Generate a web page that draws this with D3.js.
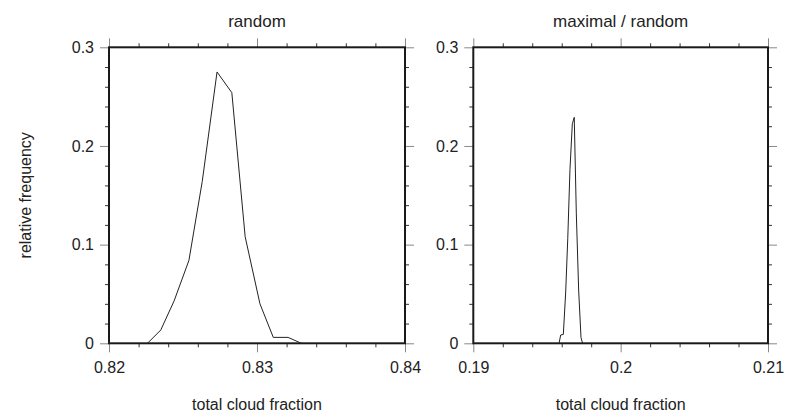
<!DOCTYPE html>
<html><head><meta charset="utf-8">
<script src="https://cdn.jsdelivr.net/npm/d3@7"></script>
<style>body{margin:0;background:#fff}svg{display:block}text{font-family:"Liberation Sans",Arial,sans-serif;fill:#222}</style>
</head><body><svg id="c" width="793" height="414"></svg>
<script>
const titles = ["random", "maximal / random"];
const xDomains = [[0.82, 0.84], [0.19, 0.21]];
const xTickVals = [[0.82, 0.83, 0.84], [0.19, 0.2, 0.21]];
const xTickLabels = [["0.82", "0.83", "0.84"], ["0.19", "0.2", "0.21"]];
const yTickVals = [0, 0.1, 0.2, 0.3];
const yTickLabels = ["0", "0.1", "0.2", "0.3"];
const randomX = [0.8226, 0.8235, 0.8244, 0.8254, 0.8263, 0.8273, 0.8283, 0.8292, 0.8302, 0.8311, 0.8321, 0.8330];
const randomY = [0, 0.0135, 0.043, 0.084, 0.164, 0.275, 0.254, 0.108, 0.040, 0.006, 0.006, 0];
const maxRandX = [0.19582, 0.19593, 0.19611, 0.19627, 0.19641, 0.19656, 0.19672, 0.19685, 0.19699, 0.19715, 0.19731, 0.19742];
const maxRandY = [0, 0.0084, 0.009, 0.052, 0.106, 0.176, 0.2225, 0.229, 0.132, 0.054, 0.0057, 0];
const seriesX = [randomX, maxRandX];
const seriesY = [randomY, maxRandY];

const svg = d3.select("#c");
const panels = [{x0:109, x1:405}, {x0:473.3, x1:768}];
const y0 = 343.3, y1 = 47.3;

panels.forEach((p, i) => {
  const x = d3.scaleLinear().domain(xDomains[i]).range([p.x0, p.x1]);
  const y = d3.scaleLinear().domain([0, 0.3]).range([y0, y1]);
  const g = svg.append("g");
  const dx = xDomains[i];
  const minorX = d3.range(0, 11).map(k => dx[0] + k * (dx[1] - dx[0]) / 10).filter((v, k) => k % 5 !== 0);
  const minorY = d3.range(0, 16).map(k => k * 0.02).filter((v, k) => k % 5 !== 0);

  const minor = (axis, tr) => g.append("g").attr("transform", tr)
    .call(axis.tickSize(4).tickFormat(""))
    .call(a => a.select(".domain").remove()).call(a => a.selectAll("line").attr("stroke", "#333"));
  minor(d3.axisBottom(x).tickValues(minorX), `translate(0,${y0})`);
  minor(d3.axisTop(x).tickValues(minorX), `translate(0,${y1})`);
  minor(d3.axisLeft(y).tickValues(minorY), `translate(${p.x0},0)`);
  minor(d3.axisRight(y).tickValues(minorY), `translate(${p.x1},0)`);

  const bx = g.append("g").attr("transform", `translate(0,${y0})`)
    .call(d3.axisBottom(x).tickValues(xTickVals[i]).tickSize(9).tickPadding(9)
      .tickFormat((d, k) => xTickLabels[i][k]));
  bx.select(".domain").remove();
  bx.selectAll("line").attr("stroke", "#888");
  bx.selectAll("text").style("font-size", "16px").attr("fill", "#222");
  g.append("g").attr("transform", `translate(0,${y1})`)
    .call(d3.axisTop(x).tickValues(xTickVals[i]).tickSize(9).tickFormat(""))
    .call(a => a.select(".domain").remove()).call(a => a.selectAll("line").attr("stroke", "#888"));
  const ly = g.append("g").attr("transform", `translate(${p.x0},0)`)
    .call(d3.axisLeft(y).tickValues(yTickVals).tickSize(9).tickPadding(6)
      .tickFormat((d, k) => yTickLabels[k]));
  ly.select(".domain").remove();
  ly.selectAll("line").attr("stroke", "#888");
  ly.selectAll("text").style("font-size", "16px").attr("fill", "#222");
  g.append("g").attr("transform", `translate(${p.x1},0)`)
    .call(d3.axisRight(y).tickValues(yTickVals).tickSize(9).tickFormat(""))
    .call(a => a.select(".domain").remove()).call(a => a.selectAll("line").attr("stroke", "#888"));

  g.append("rect").attr("x", p.x0).attr("y", y1).attr("width", p.x1 - p.x0).attr("height", y0 - y1)
    .attr("fill", "none").attr("stroke", "#1a1a1a").attr("stroke-width", 2);

  const pts = seriesX[i].map((v, k) => [v, seriesY[i][k]]);
  g.append("path").datum(pts)
    .attr("d", d3.line().x(d => x(d[0])).y(d => y(d[1])))
    .attr("fill", "none").attr("stroke", "#222").attr("stroke-width", 1);

  g.append("text").attr("x", (p.x0 + p.x1) / 2).attr("y", 27).attr("text-anchor", "middle")
    .style("font-size", "17px").text(titles[i]);
  g.append("text").attr("x", (p.x0 + p.x1) / 2).attr("y", 410).attr("text-anchor", "middle")
    .style("font-size", "16px").text("total cloud fraction");
});

svg.append("text").attr("transform", `translate(31,${(y0 + y1) / 2}) rotate(-90)`)
  .attr("text-anchor", "middle").style("font-size", "16px").text("relative frequency");
</script></body></html>
